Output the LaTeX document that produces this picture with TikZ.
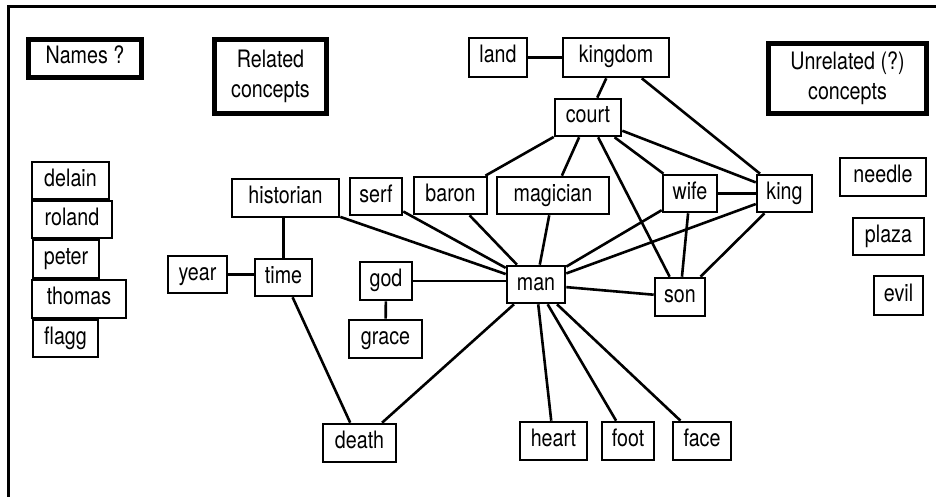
\documentclass[tikz,border=0pt]{standalone}
\usepackage{fontspec}
\setmainfont{TeX Gyre Heros}[FakeStretch=0.82]
\begin{document}
\begin{tikzpicture}[x=1pt,y=-1pt,
  base/.style={draw, line width=2.6pt, inner sep=0pt, align=center,
    font=\fontsize{24}{30}\selectfont},
  box/.style={base, text height=17.5pt, text depth=6.5pt},
  heavy/.style={line width=5pt},
  link/.style={line width=2.6pt},
  frame/.style={line width=3pt}]
\useasboundingbox (0,0) rectangle (936,497);

% open frame: left and top rules
\draw[frame] (8,497) -- (8,7) -- (936,7);

% headings
\node[box, heavy, minimum width=113pt, minimum height=38pt] (names) at (85,58.5) {Names ?};
\node[base, heavy, minimum width=112pt, minimum height=74pt] (related) at (270.5,76.5) {Related\\concepts};
\node[base, heavy, minimum width=158pt, minimum height=70pt] (unrelated) at (847.5,78.5) {Unrelated (?)\\concepts};

% names column
\node[box, minimum width=77pt, minimum height=37pt] (delain) at (70.5,180.5) {delain};
\node[box, minimum width=80pt, minimum height=37pt] (roland) at (72,219.5) {roland};
\node[box, minimum width=66pt, minimum height=38pt] (peter) at (66,259) {peter};
\node[box, minimum width=94pt, minimum height=38pt] (thomas) at (79,299) {thomas};
\node[box, minimum width=65pt, minimum height=37pt] (flagg) at (65.5,338.5) {flagg};

% related concepts
\node[box, minimum width=58pt, minimum height=39pt] (land) at (498,57.5) {land};
\node[box, minimum width=106pt, minimum height=39pt] (kingdom) at (616,57.5) {kingdom};
\node[box, minimum width=66pt, minimum height=37pt] (court) at (588,117.5) {court};
\node[box, minimum width=107pt, minimum height=38pt] (historian) at (285.5,198) {historian};
\node[box, minimum width=52pt, minimum height=37pt] (serf) at (376,196.5) {serf};
\node[box, minimum width=73pt, minimum height=37pt] (baron) at (450.5,195.5) {baron};
\node[box, minimum width=112pt, minimum height=37pt] (magician) at (553,195.5) {magician};
\node[box, minimum width=54pt, minimum height=37pt] (wife) at (690,193.5) {wife};
\node[box, minimum width=55pt, minimum height=37pt] (king) at (784.5,193.5) {king};
\node[box, minimum width=59pt, minimum height=37pt] (year) at (197.5,274.5) {year};
\node[box, minimum width=57pt, minimum height=37pt] (time) at (283.5,277.5) {time};
\node[box, minimum width=52pt, minimum height=38pt] (god) at (386,281) {god};
\node[box, minimum width=73pt, minimum height=38pt] (grace) at (385.5,339) {grace};
\node[box, minimum width=58pt, minimum height=37pt] (man) at (536,284.5) {man};
\node[box, minimum width=50pt, minimum height=38pt] (son) at (680,297) {son};
\node[box, minimum width=73pt, minimum height=38pt] (death) at (359.5,443) {death};
\node[box, minimum width=67pt, minimum height=38pt] (heart) at (553.5,441) {heart};
\node[box, minimum width=52pt, minimum height=38pt] (foot) at (628,441) {foot};
\node[box, minimum width=58pt, minimum height=38pt] (face) at (702,441) {face};

% unrelated concepts
\node[box, minimum width=86pt, minimum height=38pt] (needle) at (883,177) {needle};
\node[box, minimum width=71pt, minimum height=37pt] (plaza) at (888.5,236.5) {plaza};
\node[box, minimum width=49pt, minimum height=39pt] (evil) at (898.5,295.5) {evil};

% links
\draw[link] (land) -- (kingdom);
\draw[link] (kingdom) -- (court);
\draw[link] (kingdom) -- (king);
\draw[link] (court) -- (baron);
\draw[link] (court) -- (magician);
\draw[link] (court) -- (son);
\draw[link] (court) -- (wife);
\draw[link] (court) -- (king);
\draw[link] (wife) -- (king);
\draw[link] (wife) -- (man);
\draw[link] (wife) -- (son);
\draw[link] (king) -- (man);
\draw[link] (king) -- (son);
\draw[link] (man) -- (son);
\draw[link] (time.north) -- (time.north |- historian.south);
\draw[link] (historian) -- (man);
\draw[link] (serf) -- (man);
\draw[link] (baron) -- (man);
\draw[link] (magician) -- (man);
\draw[link] (god.east) -- (god.east -| man.west);
\draw[link] (god) -- (grace);
\draw[link] (year.east) -- (year.east -| time.west);
\draw[link] (time) -- (death);
\draw[link] (man) -- (death);
\draw[link] (man) -- (heart);
\draw[link] (man) -- (foot);
\draw[link] (man) -- (face);
\end{tikzpicture}
\end{document}
